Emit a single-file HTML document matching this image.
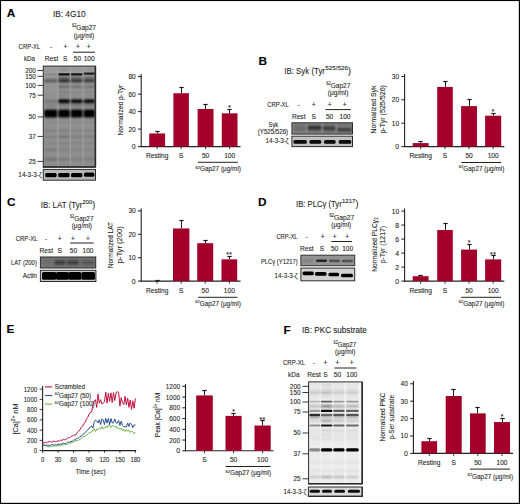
<!DOCTYPE html>
<html><head><meta charset="utf-8"><style>
html,body{margin:0;padding:0;background:#fff;width:520px;height:504px;overflow:hidden}
svg{display:block}
text{font-family:"Liberation Sans",sans-serif;stroke:#2a2a2a;stroke-width:0.1px;paint-order:stroke}
</style></head><body>
<svg width="520" height="504" viewBox="0 0 520 504" font-family="Liberation Sans" fill="#1e1e1e">
<defs><filter id="f0" x="-50%" y="-200%" width="200%" height="500%"><feGaussianBlur stdDeviation="0.0"/></filter><filter id="f1" x="-50%" y="-200%" width="200%" height="500%"><feGaussianBlur stdDeviation="0.1"/></filter><filter id="f2" x="-50%" y="-200%" width="200%" height="500%"><feGaussianBlur stdDeviation="0.2"/></filter><filter id="f3" x="-50%" y="-200%" width="200%" height="500%"><feGaussianBlur stdDeviation="0.3"/></filter><filter id="f4" x="-50%" y="-200%" width="200%" height="500%"><feGaussianBlur stdDeviation="0.4"/></filter><filter id="f5" x="-50%" y="-200%" width="200%" height="500%"><feGaussianBlur stdDeviation="0.5"/></filter><filter id="f6" x="-50%" y="-200%" width="200%" height="500%"><feGaussianBlur stdDeviation="0.6"/></filter><filter id="f7" x="-50%" y="-200%" width="200%" height="500%"><feGaussianBlur stdDeviation="0.7"/></filter><filter id="f8" x="-50%" y="-200%" width="200%" height="500%"><feGaussianBlur stdDeviation="0.8"/></filter><filter id="f9" x="-50%" y="-200%" width="200%" height="500%"><feGaussianBlur stdDeviation="0.9"/></filter><filter id="f10" x="-50%" y="-200%" width="200%" height="500%"><feGaussianBlur stdDeviation="1.0"/></filter><filter id="f11" x="-50%" y="-200%" width="200%" height="500%"><feGaussianBlur stdDeviation="1.1"/></filter><filter id="f12" x="-50%" y="-200%" width="200%" height="500%"><feGaussianBlur stdDeviation="1.2"/></filter><filter id="f13" x="-50%" y="-200%" width="200%" height="500%"><feGaussianBlur stdDeviation="1.3"/></filter><filter id="f14" x="-50%" y="-200%" width="200%" height="500%"><feGaussianBlur stdDeviation="1.4"/></filter><filter id="f15" x="-50%" y="-200%" width="200%" height="500%"><feGaussianBlur stdDeviation="1.5"/></filter><filter id="f16" x="-50%" y="-200%" width="200%" height="500%"><feGaussianBlur stdDeviation="1.6"/></filter><filter id="f17" x="-50%" y="-200%" width="200%" height="500%"><feGaussianBlur stdDeviation="1.7"/></filter><filter id="f18" x="-50%" y="-200%" width="200%" height="500%"><feGaussianBlur stdDeviation="1.8"/></filter><filter id="f19" x="-50%" y="-200%" width="200%" height="500%"><feGaussianBlur stdDeviation="1.9"/></filter><linearGradient id="gA" x1="0" y1="0" x2="0" y2="1"><stop offset="0" stop-color="#a0a0a0"/><stop offset="0.3" stop-color="#959595"/><stop offset="1" stop-color="#8c8c8c"/></linearGradient></defs>
<rect x="0" y="0" width="520" height="504" fill="#fff"/>
<text x="6.80" y="16.70" font-size="11.8" font-weight="bold" fill="#000" >A</text><text x="52.90" y="16.50" font-size="8.8" textLength="32.80" lengthAdjust="spacingAndGlyphs" >IB: 4G10</text><text x="72.00" y="30.20" font-size="7.7" textLength="24.00" lengthAdjust="spacingAndGlyphs" ><tspan font-size="4.6" dy="-3.2">62</tspan><tspan dy="3.2">Gap27</tspan></text><text x="73.80" y="37.50" font-size="7.3" textLength="20.40" lengthAdjust="spacingAndGlyphs" >(&#956;g/ml)</text><text x="18.60" y="48.60" font-size="6.6" textLength="21.80" lengthAdjust="spacingAndGlyphs" >CRP-XL</text><text x="51.00" y="48.60" font-size="6.6" text-anchor="middle" >-</text><text x="65.40" y="48.60" font-size="6.6" text-anchor="middle" >+</text><text x="78.00" y="48.60" font-size="6.6" text-anchor="middle" >+</text><text x="88.70" y="48.60" font-size="6.6" text-anchor="middle" >+</text><line x1="73.00" y1="52.20" x2="95.00" y2="52.20" stroke="#222" stroke-width="1"/><text x="24.00" y="60.50" font-size="6.6" textLength="11.00" lengthAdjust="spacingAndGlyphs" >kDa</text><text x="51.60" y="60.50" font-size="6.6" text-anchor="middle" >Rest</text><text x="65.20" y="60.50" font-size="6.6" text-anchor="middle" >S</text><text x="77.50" y="60.50" font-size="6.6" text-anchor="middle" >50</text><text x="89.20" y="60.50" font-size="6.6" text-anchor="middle" >100</text><line x1="37.50" y1="70.50" x2="43.00" y2="70.50" stroke="#222" stroke-width="0.9"/><text x="35.80" y="72.80" font-size="6.4" text-anchor="end" >200</text><line x1="37.50" y1="76.30" x2="43.00" y2="76.30" stroke="#222" stroke-width="0.9"/><text x="35.80" y="78.60" font-size="6.4" text-anchor="end" >150</text><line x1="37.50" y1="85.40" x2="43.00" y2="85.40" stroke="#222" stroke-width="0.9"/><text x="35.80" y="87.70" font-size="6.4" text-anchor="end" >100</text><line x1="37.50" y1="95.20" x2="43.00" y2="95.20" stroke="#222" stroke-width="0.9"/><text x="35.80" y="97.50" font-size="6.4" text-anchor="end" >75</text><line x1="37.50" y1="116.90" x2="43.00" y2="116.90" stroke="#222" stroke-width="0.9"/><text x="35.80" y="119.20" font-size="6.4" text-anchor="end" >50</text><line x1="37.50" y1="136.40" x2="43.00" y2="136.40" stroke="#222" stroke-width="0.9"/><text x="35.80" y="138.70" font-size="6.4" text-anchor="end" >37</text><line x1="37.50" y1="161.40" x2="43.00" y2="161.40" stroke="#222" stroke-width="0.9"/><text x="35.80" y="163.70" font-size="6.4" text-anchor="end" >25</text><clipPath id="c29"><rect x="43.30" y="66.10" width="52.10" height="100.90"/></clipPath><g clip-path="url(#c29)"><rect x="43.30" y="66.10" width="52.10" height="100.90" fill="#a3a3a3" /><rect x="44.20" y="66.10" width="13.00" height="100.90" fill="url(#gA)" filter="url(#f6)"/><rect x="58.30" y="66.10" width="11.60" height="100.90" fill="url(#gA)" filter="url(#f6)"/><rect x="70.90" y="66.10" width="11.70" height="100.90" fill="url(#gA)" filter="url(#f6)"/><rect x="83.60" y="66.10" width="11.40" height="100.90" fill="url(#gA)" filter="url(#f6)"/><rect x="44.20" y="68.25" width="13.00" height="2.50" rx="1.25" fill="rgba(0,0,0,0.06)" filter="url(#f10)"/><rect x="44.20" y="73.35" width="13.00" height="2.10" rx="1.05" fill="rgba(0,0,0,0.12)" filter="url(#f6)"/><rect x="44.20" y="76.30" width="13.00" height="2.60" rx="1.30" fill="rgba(0,0,0,0.05)" filter="url(#f10)"/><rect x="44.20" y="79.10" width="13.00" height="3.40" rx="1.50" fill="rgba(0,0,0,0.40)" filter="url(#f9)"/><rect x="44.20" y="85.30" width="13.00" height="3.00" rx="1.50" fill="rgba(0,0,0,0.06)" filter="url(#f10)"/><rect x="44.20" y="90.50" width="13.00" height="3.00" rx="1.50" fill="rgba(0,0,0,0.04)" filter="url(#f10)"/><rect x="44.20" y="95.00" width="13.00" height="2.00" rx="1.00" fill="rgba(0,0,0,0.04)" filter="url(#f10)"/><rect x="44.20" y="99.30" width="13.00" height="4.00" rx="1.50" fill="rgba(0,0,0,0.18)" filter="url(#f8)"/><rect x="44.20" y="104.40" width="13.00" height="2.40" rx="1.20" fill="rgba(0,0,0,0.15)" filter="url(#f9)"/><rect x="44.20" y="109.50" width="13.00" height="8.00" rx="1.50" fill="rgba(0,0,0,1.00)" filter="url(#f8)"/><rect x="44.20" y="121.50" width="13.00" height="2.00" rx="1.00" fill="rgba(0,0,0,0.08)" filter="url(#f10)"/><rect x="44.20" y="129.60" width="13.00" height="2.20" rx="1.10" fill="rgba(0,0,0,0.14)" filter="url(#f10)"/><rect x="44.20" y="135.70" width="13.00" height="2.20" rx="1.10" fill="rgba(0,0,0,0.14)" filter="url(#f10)"/><rect x="44.20" y="142.20" width="13.00" height="2.00" rx="1.00" fill="rgba(0,0,0,0.09)" filter="url(#f10)"/><rect x="44.20" y="148.50" width="13.00" height="2.40" rx="1.20" fill="rgba(0,0,0,0.14)" filter="url(#f11)"/><rect x="44.20" y="158.10" width="13.00" height="2.40" rx="1.20" fill="rgba(0,0,0,0.22)" filter="url(#f10)"/><rect x="58.30" y="68.25" width="11.60" height="2.50" rx="1.25" fill="rgba(0,0,0,0.12)" filter="url(#f10)"/><rect x="58.30" y="73.35" width="11.60" height="2.10" rx="1.05" fill="rgba(0,0,0,0.90)" filter="url(#f6)"/><rect x="58.30" y="76.30" width="11.60" height="2.60" rx="1.30" fill="rgba(0,0,0,0.35)" filter="url(#f10)"/><rect x="58.30" y="79.10" width="11.60" height="3.40" rx="1.50" fill="rgba(0,0,0,0.72)" filter="url(#f9)"/><rect x="58.30" y="85.30" width="11.60" height="3.00" rx="1.50" fill="rgba(0,0,0,0.30)" filter="url(#f10)"/><rect x="58.30" y="90.50" width="11.60" height="3.00" rx="1.50" fill="rgba(0,0,0,0.16)" filter="url(#f10)"/><rect x="58.30" y="95.00" width="11.60" height="2.00" rx="1.00" fill="rgba(0,0,0,0.12)" filter="url(#f10)"/><rect x="58.30" y="99.30" width="11.60" height="4.00" rx="1.50" fill="rgba(0,0,0,1.00)" filter="url(#f8)"/><rect x="58.30" y="104.40" width="11.60" height="2.40" rx="1.20" fill="rgba(0,0,0,0.22)" filter="url(#f9)"/><rect x="58.30" y="109.50" width="11.60" height="8.00" rx="1.50" fill="rgba(0,0,0,1.00)" filter="url(#f8)"/><rect x="58.30" y="121.50" width="11.60" height="2.00" rx="1.00" fill="rgba(0,0,0,0.08)" filter="url(#f10)"/><rect x="58.30" y="129.60" width="11.60" height="2.20" rx="1.10" fill="rgba(0,0,0,0.14)" filter="url(#f10)"/><rect x="58.30" y="135.70" width="11.60" height="2.20" rx="1.10" fill="rgba(0,0,0,0.24)" filter="url(#f10)"/><rect x="58.30" y="142.20" width="11.60" height="2.00" rx="1.00" fill="rgba(0,0,0,0.11)" filter="url(#f10)"/><rect x="58.30" y="148.50" width="11.60" height="2.40" rx="1.20" fill="rgba(0,0,0,0.09)" filter="url(#f11)"/><rect x="58.30" y="158.10" width="11.60" height="2.40" rx="1.20" fill="rgba(0,0,0,0.15)" filter="url(#f10)"/><rect x="70.90" y="68.25" width="11.70" height="2.50" rx="1.25" fill="rgba(0,0,0,0.08)" filter="url(#f10)"/><rect x="70.90" y="73.35" width="11.70" height="2.10" rx="1.05" fill="rgba(0,0,0,0.85)" filter="url(#f6)"/><rect x="70.90" y="76.30" width="11.70" height="2.60" rx="1.30" fill="rgba(0,0,0,0.30)" filter="url(#f10)"/><rect x="70.90" y="79.10" width="11.70" height="3.40" rx="1.50" fill="rgba(0,0,0,0.68)" filter="url(#f9)"/><rect x="70.90" y="85.30" width="11.70" height="3.00" rx="1.50" fill="rgba(0,0,0,0.25)" filter="url(#f10)"/><rect x="70.90" y="90.50" width="11.70" height="3.00" rx="1.50" fill="rgba(0,0,0,0.12)" filter="url(#f10)"/><rect x="70.90" y="95.00" width="11.70" height="2.00" rx="1.00" fill="rgba(0,0,0,0.08)" filter="url(#f10)"/><rect x="70.90" y="99.30" width="11.70" height="4.00" rx="1.50" fill="rgba(0,0,0,0.95)" filter="url(#f8)"/><rect x="70.90" y="104.40" width="11.70" height="2.40" rx="1.20" fill="rgba(0,0,0,0.22)" filter="url(#f9)"/><rect x="70.90" y="109.50" width="11.70" height="8.00" rx="1.50" fill="rgba(0,0,0,1.00)" filter="url(#f8)"/><rect x="70.90" y="121.50" width="11.70" height="2.00" rx="1.00" fill="rgba(0,0,0,0.08)" filter="url(#f10)"/><rect x="70.90" y="129.60" width="11.70" height="2.20" rx="1.10" fill="rgba(0,0,0,0.11)" filter="url(#f10)"/><rect x="70.90" y="135.70" width="11.70" height="2.20" rx="1.10" fill="rgba(0,0,0,0.15)" filter="url(#f10)"/><rect x="70.90" y="142.20" width="11.70" height="2.00" rx="1.00" fill="rgba(0,0,0,0.11)" filter="url(#f10)"/><rect x="70.90" y="148.50" width="11.70" height="2.40" rx="1.20" fill="rgba(0,0,0,0.08)" filter="url(#f11)"/><rect x="70.90" y="158.10" width="11.70" height="2.40" rx="1.20" fill="rgba(0,0,0,0.12)" filter="url(#f10)"/><rect x="83.60" y="68.25" width="11.40" height="2.50" rx="1.25" fill="rgba(0,0,0,0.08)" filter="url(#f10)"/><rect x="83.60" y="72.55" width="11.40" height="2.10" rx="1.05" fill="rgba(0,0,0,0.80)" filter="url(#f6)"/><rect x="83.60" y="76.30" width="11.40" height="2.60" rx="1.30" fill="rgba(0,0,0,0.30)" filter="url(#f10)"/><rect x="83.60" y="79.10" width="11.40" height="3.40" rx="1.50" fill="rgba(0,0,0,0.62)" filter="url(#f9)"/><rect x="83.60" y="85.30" width="11.40" height="3.00" rx="1.50" fill="rgba(0,0,0,0.25)" filter="url(#f10)"/><rect x="83.60" y="90.50" width="11.40" height="3.00" rx="1.50" fill="rgba(0,0,0,0.12)" filter="url(#f10)"/><rect x="83.60" y="95.00" width="11.40" height="2.00" rx="1.00" fill="rgba(0,0,0,0.08)" filter="url(#f10)"/><rect x="83.60" y="99.30" width="11.40" height="4.00" rx="1.50" fill="rgba(0,0,0,0.95)" filter="url(#f8)"/><rect x="83.60" y="104.40" width="11.40" height="2.40" rx="1.20" fill="rgba(0,0,0,0.22)" filter="url(#f9)"/><rect x="83.60" y="109.50" width="11.40" height="8.00" rx="1.50" fill="rgba(0,0,0,1.00)" filter="url(#f8)"/><rect x="83.60" y="121.50" width="11.40" height="2.00" rx="1.00" fill="rgba(0,0,0,0.08)" filter="url(#f10)"/><rect x="83.60" y="129.60" width="11.40" height="2.20" rx="1.10" fill="rgba(0,0,0,0.11)" filter="url(#f10)"/><rect x="83.60" y="135.70" width="11.40" height="2.20" rx="1.10" fill="rgba(0,0,0,0.15)" filter="url(#f10)"/><rect x="83.60" y="142.20" width="11.40" height="2.00" rx="1.00" fill="rgba(0,0,0,0.09)" filter="url(#f10)"/><rect x="83.60" y="148.50" width="11.40" height="2.40" rx="1.20" fill="rgba(0,0,0,0.08)" filter="url(#f11)"/><rect x="83.60" y="158.10" width="11.40" height="2.40" rx="1.20" fill="rgba(0,0,0,0.12)" filter="url(#f10)"/></g><rect x="43.30" y="66.10" width="52.10" height="100.90" fill="none" stroke="#2a2a2a" stroke-width="1.0"/><line x1="42.80" y1="167.00" x2="95.90" y2="167.00" stroke="#2a2a2a" stroke-width="1.6"/><line x1="95.40" y1="66.10" x2="95.40" y2="167.00" stroke="#2a2a2a" stroke-width="1.6"/><text x="18.30" y="177.40" font-size="6.5" textLength="23.60" lengthAdjust="spacingAndGlyphs" >14-3-3-&#950;</text><clipPath id="c105"><rect x="43.30" y="169.40" width="52.20" height="10.80"/></clipPath><g clip-path="url(#c105)"><rect x="43.30" y="169.40" width="52.20" height="10.80" fill="#b8b8b8" /><rect x="45.20" y="173.10" width="11.40" height="4.20" rx="1.50" fill="#000" filter="url(#f6)"/><rect x="58.20" y="173.10" width="11.40" height="4.20" rx="1.50" fill="#000" filter="url(#f6)"/><rect x="71.00" y="173.10" width="11.40" height="4.20" rx="1.50" fill="#000" filter="url(#f6)"/><rect x="84.00" y="172.50" width="10.40" height="4.20" rx="1.50" fill="#000" filter="url(#f6)"/></g><rect x="43.30" y="169.40" width="52.20" height="10.80" fill="none" stroke="#2a2a2a" stroke-width="1.0"/><line x1="141.20" y1="74.00" x2="141.20" y2="147.10" stroke="#222" stroke-width="1.1"/><line x1="140.70" y1="146.60" x2="240.50" y2="146.60" stroke="#222" stroke-width="1.1"/><line x1="138.00" y1="146.60" x2="141.20" y2="146.60" stroke="#1a1a1a" stroke-width="1.0"/><text x="135.70" y="149.05" font-size="7.0" text-anchor="end" textLength="3.85" lengthAdjust="spacingAndGlyphs" >0</text><line x1="138.00" y1="129.10" x2="141.20" y2="129.10" stroke="#1a1a1a" stroke-width="1.0"/><text x="135.70" y="131.55" font-size="7.0" text-anchor="end" textLength="7.30" lengthAdjust="spacingAndGlyphs" >20</text><line x1="138.00" y1="111.60" x2="141.20" y2="111.60" stroke="#1a1a1a" stroke-width="1.0"/><text x="135.70" y="114.05" font-size="7.0" text-anchor="end" textLength="7.30" lengthAdjust="spacingAndGlyphs" >40</text><line x1="138.00" y1="94.10" x2="141.20" y2="94.10" stroke="#1a1a1a" stroke-width="1.0"/><text x="135.70" y="96.55" font-size="7.0" text-anchor="end" textLength="7.30" lengthAdjust="spacingAndGlyphs" >60</text><line x1="138.00" y1="76.60" x2="141.20" y2="76.60" stroke="#1a1a1a" stroke-width="1.0"/><text x="135.70" y="79.05" font-size="7.0" text-anchor="end" textLength="7.30" lengthAdjust="spacingAndGlyphs" >80</text><line x1="157.15" y1="146.60" x2="157.15" y2="149.20" stroke="#222" stroke-width="0.9"/><rect x="149.20" y="133.47" width="15.90" height="13.12" fill="#a2002b" /><line x1="157.50" y1="133.47" x2="157.50" y2="131.50" stroke="#1a1a1a" stroke-width="1.0"/><line x1="155.30" y1="131.50" x2="159.70" y2="131.50" stroke="#1a1a1a" stroke-width="1.2"/><text x="157.15" y="158.20" font-size="6.6" text-anchor="middle" >Resting</text><line x1="181.15" y1="146.60" x2="181.15" y2="149.20" stroke="#222" stroke-width="0.9"/><rect x="173.40" y="93.22" width="15.50" height="53.38" fill="#a2002b" /><line x1="181.50" y1="93.22" x2="181.50" y2="87.50" stroke="#1a1a1a" stroke-width="1.0"/><line x1="179.30" y1="87.50" x2="183.70" y2="87.50" stroke="#1a1a1a" stroke-width="1.2"/><text x="181.15" y="158.20" font-size="6.6" text-anchor="middle" >S</text><line x1="205.55" y1="146.60" x2="205.55" y2="149.20" stroke="#222" stroke-width="0.9"/><rect x="197.60" y="108.97" width="15.90" height="37.62" fill="#a2002b" /><line x1="205.50" y1="108.97" x2="205.50" y2="104.50" stroke="#1a1a1a" stroke-width="1.0"/><line x1="203.30" y1="104.50" x2="207.70" y2="104.50" stroke="#1a1a1a" stroke-width="1.2"/><text x="205.55" y="158.20" font-size="6.6" text-anchor="middle" >50</text><line x1="229.65" y1="146.60" x2="229.65" y2="149.20" stroke="#222" stroke-width="0.9"/><rect x="221.80" y="113.35" width="15.70" height="33.25" fill="#a2002b" /><line x1="229.50" y1="113.35" x2="229.50" y2="109.50" stroke="#1a1a1a" stroke-width="1.0"/><line x1="227.30" y1="109.50" x2="231.70" y2="109.50" stroke="#1a1a1a" stroke-width="1.2"/><text x="229.65" y="110.31" font-size="6.6" text-anchor="middle" >*</text><text x="229.65" y="158.20" font-size="6.6" text-anchor="middle" >100</text><line x1="198.00" y1="162.30" x2="237.80" y2="162.30" stroke="#222" stroke-width="1.0"/><text x="218.20" y="171.20" font-size="6.9" text-anchor="middle" textLength="45.50" lengthAdjust="spacingAndGlyphs" ><tspan font-size="4.4" dy="-2.7">62</tspan><tspan dy="2.7">Gap27 (&#956;g/ml)</tspan></text><text x="122.70" y="110.10" font-size="7.9" text-anchor="middle" textLength="50.80" lengthAdjust="spacingAndGlyphs" transform="rotate(-90 122.70 110.10)" >Normalized p-Tyr</text><text x="258.40" y="65.30" font-size="11.8" font-weight="bold" fill="#000" >B</text><text x="284.20" y="74.00" font-size="8.8" textLength="40.80" lengthAdjust="spacingAndGlyphs" >IB: Syk (Tyr</text><text x="325.30" y="70.10" font-size="5.8" textLength="22.60" lengthAdjust="spacingAndGlyphs" >525/526</text><text x="348.00" y="74.00" font-size="8.8" >)</text><text x="326.30" y="87.90" font-size="7.7" textLength="24.00" lengthAdjust="spacingAndGlyphs" ><tspan font-size="4.6" dy="-3.2">62</tspan><tspan dy="3.2">Gap27</tspan></text><text x="327.70" y="95.40" font-size="7.3" textLength="20.80" lengthAdjust="spacingAndGlyphs" >(&#956;g/ml)</text><text x="267.30" y="106.90" font-size="6.6" textLength="21.50" lengthAdjust="spacingAndGlyphs" >CRP-XL</text><text x="298.50" y="106.90" font-size="6.6" text-anchor="middle" >-</text><text x="313.80" y="106.90" font-size="6.6" text-anchor="middle" >+</text><text x="329.60" y="106.90" font-size="6.6" text-anchor="middle" >+</text><text x="344.60" y="106.90" font-size="6.6" text-anchor="middle" >+</text><line x1="325.40" y1="109.60" x2="350.80" y2="109.60" stroke="#222" stroke-width="1"/><text x="298.70" y="118.50" font-size="6.6" text-anchor="middle" >Rest</text><text x="313.80" y="118.50" font-size="6.6" text-anchor="middle" >S</text><text x="329.60" y="118.50" font-size="6.6" text-anchor="middle" >50</text><text x="345.00" y="118.50" font-size="6.6" text-anchor="middle" >100</text><text x="268.60" y="126.70" font-size="6.8" textLength="9.60" lengthAdjust="spacingAndGlyphs" >Syk</text><text x="257.80" y="134.00" font-size="6.8" textLength="30.30" lengthAdjust="spacingAndGlyphs" >(Y525/526)</text><text x="265.60" y="142.70" font-size="6.6" textLength="23.00" lengthAdjust="spacingAndGlyphs" >14-3-3-&#950;</text><clipPath id="c169"><rect x="291.90" y="122.80" width="60.60" height="11.30"/></clipPath><g clip-path="url(#c169)"><rect x="291.90" y="122.80" width="60.60" height="11.30" fill="#8e8e8e" /><rect x="293.50" y="122.80" width="12.50" height="11.30" fill="#808080" filter="url(#f6)"/><rect x="307.50" y="122.80" width="14.00" height="11.30" fill="#808080" filter="url(#f6)"/><rect x="323.00" y="122.80" width="12.60" height="11.30" fill="#808080" filter="url(#f6)"/><rect x="337.00" y="122.80" width="15.00" height="11.30" fill="#808080" filter="url(#f6)"/><rect x="293.50" y="127.00" width="12.50" height="3.40" rx="1.50" fill="rgba(0,0,0,0.20)" filter="url(#f10)"/><rect x="307.50" y="125.90" width="14.00" height="3.00" rx="1.50" fill="rgba(0,0,0,0.70)" filter="url(#f8)"/><rect x="307.50" y="128.90" width="14.00" height="2.20" rx="1.10" fill="rgba(0,0,0,0.40)" filter="url(#f9)"/><rect x="323.00" y="126.60" width="12.60" height="2.80" rx="1.40" fill="rgba(0,0,0,0.60)" filter="url(#f8)"/><rect x="323.00" y="129.20" width="12.60" height="2.20" rx="1.10" fill="rgba(0,0,0,0.30)" filter="url(#f9)"/><rect x="337.00" y="128.00" width="15.00" height="3.60" rx="1.50" fill="rgba(0,0,0,0.55)" filter="url(#f9)"/><rect x="293.50" y="123.50" width="12.50" height="3.00" rx="1.50" fill="rgba(0,0,0,0.10)" filter="url(#f10)"/><rect x="307.50" y="124.00" width="14.00" height="2.00" rx="1.00" fill="rgba(0,0,0,0.10)" filter="url(#f10)"/><rect x="323.00" y="124.00" width="12.60" height="2.00" rx="1.00" fill="rgba(0,0,0,0.10)" filter="url(#f10)"/><rect x="337.00" y="123.50" width="15.00" height="3.00" rx="1.50" fill="rgba(0,0,0,0.10)" filter="url(#f10)"/></g><rect x="291.90" y="122.80" width="60.60" height="11.30" fill="none" stroke="#2a2a2a" stroke-width="1.0"/><clipPath id="c188"><rect x="291.90" y="136.20" width="60.60" height="10.40"/></clipPath><g clip-path="url(#c188)"><rect x="291.90" y="136.20" width="60.60" height="10.40" fill="#c2c2c2" /><rect x="293.50" y="140.00" width="13.40" height="3.80" rx="1.50" fill="#080808" filter="url(#f6)"/><rect x="309.40" y="140.00" width="11.90" height="3.80" rx="1.50" fill="#080808" filter="url(#f6)"/><rect x="324.00" y="140.00" width="11.60" height="3.80" rx="1.50" fill="#080808" filter="url(#f6)"/><rect x="338.70" y="140.00" width="12.60" height="3.80" rx="1.50" fill="#080808" filter="url(#f6)"/></g><rect x="291.90" y="136.20" width="60.60" height="10.40" fill="none" stroke="#2a2a2a" stroke-width="1.0"/><line x1="404.60" y1="74.00" x2="404.60" y2="147.10" stroke="#222" stroke-width="1.1"/><line x1="404.10" y1="146.60" x2="504.30" y2="146.60" stroke="#222" stroke-width="1.1"/><line x1="401.40" y1="146.60" x2="404.60" y2="146.60" stroke="#1a1a1a" stroke-width="1.0"/><text x="399.10" y="149.05" font-size="7.0" text-anchor="end" textLength="3.85" lengthAdjust="spacingAndGlyphs" >0</text><line x1="401.40" y1="123.20" x2="404.60" y2="123.20" stroke="#1a1a1a" stroke-width="1.0"/><text x="399.10" y="125.65" font-size="7.0" text-anchor="end" textLength="7.30" lengthAdjust="spacingAndGlyphs" >10</text><line x1="401.40" y1="99.80" x2="404.60" y2="99.80" stroke="#1a1a1a" stroke-width="1.0"/><text x="399.10" y="102.25" font-size="7.0" text-anchor="end" textLength="7.30" lengthAdjust="spacingAndGlyphs" >20</text><line x1="401.40" y1="76.40" x2="404.60" y2="76.40" stroke="#1a1a1a" stroke-width="1.0"/><text x="399.10" y="78.85" font-size="7.0" text-anchor="end" textLength="7.30" lengthAdjust="spacingAndGlyphs" >30</text><line x1="420.65" y1="146.60" x2="420.65" y2="149.20" stroke="#222" stroke-width="0.9"/><rect x="412.70" y="143.09" width="15.90" height="3.51" fill="#a2002b" /><line x1="420.50" y1="143.09" x2="420.50" y2="141.50" stroke="#1a1a1a" stroke-width="1.0"/><line x1="418.30" y1="141.50" x2="422.70" y2="141.50" stroke="#1a1a1a" stroke-width="1.2"/><text x="420.65" y="158.30" font-size="6.6" text-anchor="middle" >Resting</text><line x1="445.00" y1="146.60" x2="445.00" y2="149.20" stroke="#222" stroke-width="0.9"/><rect x="437.20" y="86.93" width="15.60" height="59.67" fill="#a2002b" /><line x1="445.50" y1="86.93" x2="445.50" y2="81.50" stroke="#1a1a1a" stroke-width="1.0"/><line x1="443.30" y1="81.50" x2="447.70" y2="81.50" stroke="#1a1a1a" stroke-width="1.2"/><text x="445.00" y="158.30" font-size="6.6" text-anchor="middle" >S</text><line x1="469.05" y1="146.60" x2="469.05" y2="149.20" stroke="#222" stroke-width="0.9"/><rect x="461.10" y="106.12" width="15.90" height="40.48" fill="#a2002b" /><line x1="469.50" y1="106.12" x2="469.50" y2="99.50" stroke="#1a1a1a" stroke-width="1.0"/><line x1="467.30" y1="99.50" x2="471.70" y2="99.50" stroke="#1a1a1a" stroke-width="1.2"/><text x="469.05" y="158.30" font-size="6.6" text-anchor="middle" >50</text><line x1="493.15" y1="146.60" x2="493.15" y2="149.20" stroke="#222" stroke-width="0.9"/><rect x="485.10" y="115.71" width="16.10" height="30.89" fill="#a2002b" /><line x1="493.50" y1="115.71" x2="493.50" y2="113.50" stroke="#1a1a1a" stroke-width="1.0"/><line x1="491.30" y1="113.50" x2="495.70" y2="113.50" stroke="#1a1a1a" stroke-width="1.2"/><text x="493.15" y="114.04" font-size="6.6" text-anchor="middle" >*</text><text x="493.15" y="158.30" font-size="6.6" text-anchor="middle" >100</text><line x1="461.30" y1="162.50" x2="501.20" y2="162.50" stroke="#222" stroke-width="1.0"/><text x="481.55" y="171.00" font-size="6.9" text-anchor="middle" textLength="45.50" lengthAdjust="spacingAndGlyphs" ><tspan font-size="4.4" dy="-2.7">62</tspan><tspan dy="2.7">Gap27 (&#956;g/ml)</tspan></text><text x="376.40" y="109.60" font-size="7.9" text-anchor="middle" textLength="47.80" lengthAdjust="spacingAndGlyphs" transform="rotate(-90 376.40 109.60)" >Normalized Syk</text><text x="385.30" y="109.30" font-size="7.9" text-anchor="middle" textLength="48.60" lengthAdjust="spacingAndGlyphs" transform="rotate(-90 385.30 109.30)" >p-Tyr (525/526)</text><text x="6.90" y="205.80" font-size="11.8" font-weight="bold" fill="#000" >C</text><text x="40.70" y="207.80" font-size="8.8" textLength="41.70" lengthAdjust="spacingAndGlyphs" >IB: LAT (Tyr</text><text x="82.40" y="203.50" font-size="5.8" textLength="9.80" lengthAdjust="spacingAndGlyphs" >200</text><text x="92.20" y="207.80" font-size="8.8" >)</text><text x="69.90" y="221.20" font-size="7.7" textLength="23.60" lengthAdjust="spacingAndGlyphs" ><tspan font-size="4.6" dy="-3.2">62</tspan><tspan dy="3.2">Gap27</tspan></text><text x="71.70" y="228.40" font-size="7.3" textLength="20.30" lengthAdjust="spacingAndGlyphs" >(&#956;g/ml)</text><text x="15.80" y="240.60" font-size="6.6" textLength="21.70" lengthAdjust="spacingAndGlyphs" >CRP-XL</text><text x="46.20" y="240.60" font-size="6.6" text-anchor="middle" >-</text><text x="59.60" y="240.60" font-size="6.6" text-anchor="middle" >+</text><text x="73.00" y="240.60" font-size="6.6" text-anchor="middle" >+</text><text x="88.00" y="240.60" font-size="6.6" text-anchor="middle" >+</text><line x1="70.20" y1="243.00" x2="93.70" y2="243.00" stroke="#222" stroke-width="1"/><text x="46.40" y="252.50" font-size="6.6" text-anchor="middle" >Rest</text><text x="59.60" y="252.50" font-size="6.6" text-anchor="middle" >S</text><text x="73.50" y="252.50" font-size="6.6" text-anchor="middle" >50</text><text x="88.00" y="252.50" font-size="6.6" text-anchor="middle" >100</text><text x="11.00" y="264.50" font-size="6.8" textLength="25.90" lengthAdjust="spacingAndGlyphs" >LAT (200)</text><text x="22.70" y="277.50" font-size="6.8" textLength="14.20" lengthAdjust="spacingAndGlyphs" >Actin</text><clipPath id="c250"><rect x="40.40" y="257.00" width="55.30" height="11.00"/></clipPath><g clip-path="url(#c250)"><rect x="40.40" y="257.00" width="55.30" height="11.00" fill="#747474" /><rect x="42.00" y="260.10" width="12.50" height="5.00" rx="1.50" fill="rgba(0,0,0,0.05)" filter="url(#f10)"/><rect x="54.70" y="260.10" width="10.80" height="5.00" rx="1.50" fill="rgba(0,0,0,0.45)" filter="url(#f9)"/><rect x="66.80" y="260.10" width="12.20" height="5.00" rx="1.50" fill="rgba(0,0,0,0.42)" filter="url(#f9)"/><rect x="81.20" y="260.10" width="12.80" height="5.00" rx="1.50" fill="rgba(0,0,0,0.25)" filter="url(#f9)"/></g><rect x="40.40" y="257.00" width="55.30" height="11.00" fill="none" stroke="#2a2a2a" stroke-width="1.0"/><clipPath id="c259"><rect x="40.40" y="270.30" width="55.50" height="11.20"/></clipPath><g clip-path="url(#c259)"><rect x="40.40" y="270.30" width="55.50" height="11.20" fill="#cacaca" /><rect x="42.00" y="272.10" width="14.40" height="7.60" rx="1.50" fill="#000" filter="url(#f4)"/><rect x="56.00" y="272.10" width="12.90" height="7.60" rx="1.50" fill="#000" filter="url(#f4)"/><rect x="68.40" y="272.10" width="13.00" height="7.60" rx="1.50" fill="#000" filter="url(#f4)"/><rect x="81.40" y="272.10" width="13.60" height="7.60" rx="1.50" fill="#000" filter="url(#f4)"/></g><rect x="40.40" y="270.30" width="55.50" height="11.20" fill="none" stroke="#2a2a2a" stroke-width="1.0"/><line x1="141.20" y1="208.50" x2="141.20" y2="281.60" stroke="#222" stroke-width="1.1"/><line x1="140.70" y1="281.10" x2="240.50" y2="281.10" stroke="#222" stroke-width="1.1"/><line x1="138.00" y1="281.10" x2="141.20" y2="281.10" stroke="#1a1a1a" stroke-width="1.0"/><text x="135.70" y="283.55" font-size="7.0" text-anchor="end" textLength="3.85" lengthAdjust="spacingAndGlyphs" >0</text><line x1="138.00" y1="257.70" x2="141.20" y2="257.70" stroke="#1a1a1a" stroke-width="1.0"/><text x="135.70" y="260.15" font-size="7.0" text-anchor="end" textLength="7.30" lengthAdjust="spacingAndGlyphs" >10</text><line x1="138.00" y1="234.30" x2="141.20" y2="234.30" stroke="#1a1a1a" stroke-width="1.0"/><text x="135.70" y="236.75" font-size="7.0" text-anchor="end" textLength="7.30" lengthAdjust="spacingAndGlyphs" >20</text><line x1="138.00" y1="210.90" x2="141.20" y2="210.90" stroke="#1a1a1a" stroke-width="1.0"/><text x="135.70" y="213.35" font-size="7.0" text-anchor="end" textLength="7.30" lengthAdjust="spacingAndGlyphs" >30</text><line x1="157.15" y1="281.10" x2="157.15" y2="283.70" stroke="#222" stroke-width="0.9"/><line x1="157.50" y1="281.10" x2="157.50" y2="280.50" stroke="#1a1a1a" stroke-width="1.0"/><line x1="155.30" y1="280.50" x2="159.70" y2="280.50" stroke="#1a1a1a" stroke-width="1.2"/><text x="157.15" y="293.30" font-size="6.6" text-anchor="middle" >Resting</text><line x1="181.20" y1="281.10" x2="181.20" y2="283.70" stroke="#222" stroke-width="0.9"/><rect x="173.00" y="228.45" width="16.40" height="52.65" fill="#a2002b" /><line x1="181.50" y1="228.45" x2="181.50" y2="220.50" stroke="#1a1a1a" stroke-width="1.0"/><line x1="179.30" y1="220.50" x2="183.70" y2="220.50" stroke="#1a1a1a" stroke-width="1.2"/><text x="181.20" y="293.30" font-size="6.6" text-anchor="middle" >S</text><line x1="205.20" y1="281.10" x2="205.20" y2="283.70" stroke="#222" stroke-width="0.9"/><rect x="197.20" y="243.19" width="16.00" height="37.91" fill="#a2002b" /><line x1="205.50" y1="243.19" x2="205.50" y2="240.50" stroke="#1a1a1a" stroke-width="1.0"/><line x1="203.30" y1="240.50" x2="207.70" y2="240.50" stroke="#1a1a1a" stroke-width="1.2"/><text x="205.20" y="293.30" font-size="6.6" text-anchor="middle" >50</text><line x1="229.35" y1="281.10" x2="229.35" y2="283.70" stroke="#222" stroke-width="0.9"/><rect x="221.50" y="259.34" width="15.70" height="21.76" fill="#a2002b" /><line x1="229.50" y1="259.34" x2="229.50" y2="256.50" stroke="#1a1a1a" stroke-width="1.0"/><line x1="227.30" y1="256.50" x2="231.70" y2="256.50" stroke="#1a1a1a" stroke-width="1.2"/><text x="229.35" y="256.96" font-size="6.6" text-anchor="middle" letter-spacing="0.5">**</text><text x="229.35" y="293.30" font-size="6.6" text-anchor="middle" >100</text><line x1="198.00" y1="297.30" x2="237.50" y2="297.30" stroke="#222" stroke-width="1.0"/><text x="218.05" y="305.50" font-size="6.9" text-anchor="middle" textLength="45.50" lengthAdjust="spacingAndGlyphs" ><tspan font-size="4.4" dy="-2.7">62</tspan><tspan dy="2.7">Gap27 (&#956;g/ml)</tspan></text><text x="113.30" y="245.10" font-size="7.9" text-anchor="middle" textLength="46.40" lengthAdjust="spacingAndGlyphs" transform="rotate(-90 113.30 245.10)" >Normalized LAT</text><text x="121.60" y="244.80" font-size="7.9" text-anchor="middle" textLength="37.00" lengthAdjust="spacingAndGlyphs" transform="rotate(-90 121.60 244.80)" >p-Tyr (200)</text><text x="258.00" y="205.70" font-size="11.8" font-weight="bold" fill="#000" >D</text><text x="296.00" y="206.90" font-size="8.8" textLength="45.80" lengthAdjust="spacingAndGlyphs" >IB: PLC&#947; (Tyr</text><text x="341.90" y="202.80" font-size="5.8" textLength="13.60" lengthAdjust="spacingAndGlyphs" >1217</text><text x="355.60" y="206.90" font-size="8.8" >)</text><text x="329.40" y="220.00" font-size="7.7" textLength="24.80" lengthAdjust="spacingAndGlyphs" ><tspan font-size="4.6" dy="-3.2">62</tspan><tspan dy="3.2">Gap27</tspan></text><text x="331.30" y="226.80" font-size="7.3" textLength="19.90" lengthAdjust="spacingAndGlyphs" >(&#956;g/ml)</text><text x="276.40" y="239.20" font-size="6.6" textLength="21.20" lengthAdjust="spacingAndGlyphs" >CRP-XL</text><text x="306.70" y="239.20" font-size="6.6" text-anchor="middle" >-</text><text x="322.60" y="239.20" font-size="6.6" text-anchor="middle" >+</text><text x="334.60" y="239.20" font-size="6.6" text-anchor="middle" >+</text><text x="347.30" y="239.20" font-size="6.6" text-anchor="middle" >+</text><line x1="331.40" y1="241.50" x2="352.00" y2="241.50" stroke="#222" stroke-width="1"/><text x="306.90" y="250.60" font-size="6.6" text-anchor="middle" >Rest</text><text x="322.00" y="250.60" font-size="6.6" text-anchor="middle" >S</text><text x="334.60" y="250.60" font-size="6.6" text-anchor="middle" >50</text><text x="347.70" y="250.60" font-size="6.6" text-anchor="middle" >100</text><text x="260.90" y="263.60" font-size="6.8" textLength="36.70" lengthAdjust="spacingAndGlyphs" >PLC&#947; (Y1217)</text><text x="274.60" y="277.70" font-size="6.6" textLength="23.00" lengthAdjust="spacingAndGlyphs" >14-3-3-&#950;</text><clipPath id="c320"><rect x="300.90" y="255.20" width="53.80" height="10.50"/></clipPath><g clip-path="url(#c320)"><rect x="300.90" y="255.20" width="53.80" height="10.50" fill="#939393" /><rect x="302.50" y="259.40" width="11.50" height="2.60" rx="1.30" fill="rgba(0,0,0,0.15)" filter="url(#f8)"/><rect x="316.00" y="259.40" width="11.00" height="2.60" rx="1.30" fill="rgba(0,0,0,0.75)" filter="url(#f6)"/><rect x="329.00" y="259.60" width="11.00" height="2.60" rx="1.30" fill="rgba(0,0,0,0.45)" filter="url(#f6)"/><rect x="341.60" y="259.70" width="11.40" height="2.60" rx="1.30" fill="rgba(0,0,0,0.45)" filter="url(#f6)"/></g><rect x="300.90" y="255.20" width="53.80" height="10.50" fill="none" stroke="#2a2a2a" stroke-width="1.0"/><clipPath id="c329"><rect x="300.90" y="268.10" width="53.80" height="12.70"/></clipPath><g clip-path="url(#c329)"><rect x="300.90" y="268.10" width="53.80" height="12.70" fill="#d2d2d2" /><rect x="302.60" y="271.60" width="11.20" height="3.60" rx="1.50" fill="#000" filter="url(#f5)"/><rect x="315.00" y="272.10" width="11.50" height="3.60" rx="1.50" fill="#000" filter="url(#f5)"/><rect x="328.40" y="272.70" width="10.80" height="3.60" rx="1.50" fill="#000" filter="url(#f5)"/><rect x="341.00" y="273.70" width="12.00" height="3.60" rx="1.50" fill="#000" filter="url(#f5)"/></g><rect x="300.90" y="268.10" width="53.80" height="12.70" fill="none" stroke="#2a2a2a" stroke-width="1.0"/><line x1="404.60" y1="208.50" x2="404.60" y2="281.60" stroke="#222" stroke-width="1.1"/><line x1="404.10" y1="281.10" x2="504.30" y2="281.10" stroke="#222" stroke-width="1.1"/><line x1="401.40" y1="281.10" x2="404.60" y2="281.10" stroke="#1a1a1a" stroke-width="1.0"/><text x="399.10" y="283.55" font-size="7.0" text-anchor="end" textLength="3.85" lengthAdjust="spacingAndGlyphs" >0</text><line x1="401.40" y1="267.10" x2="404.60" y2="267.10" stroke="#1a1a1a" stroke-width="1.0"/><text x="399.10" y="269.55" font-size="7.0" text-anchor="end" textLength="3.85" lengthAdjust="spacingAndGlyphs" >2</text><line x1="401.40" y1="253.10" x2="404.60" y2="253.10" stroke="#1a1a1a" stroke-width="1.0"/><text x="399.10" y="255.55" font-size="7.0" text-anchor="end" textLength="3.85" lengthAdjust="spacingAndGlyphs" >4</text><line x1="401.40" y1="239.10" x2="404.60" y2="239.10" stroke="#1a1a1a" stroke-width="1.0"/><text x="399.10" y="241.55" font-size="7.0" text-anchor="end" textLength="3.85" lengthAdjust="spacingAndGlyphs" >6</text><line x1="401.40" y1="225.10" x2="404.60" y2="225.10" stroke="#1a1a1a" stroke-width="1.0"/><text x="399.10" y="227.55" font-size="7.0" text-anchor="end" textLength="3.85" lengthAdjust="spacingAndGlyphs" >8</text><line x1="401.40" y1="211.10" x2="404.60" y2="211.10" stroke="#1a1a1a" stroke-width="1.0"/><text x="399.10" y="213.55" font-size="7.0" text-anchor="end" textLength="7.30" lengthAdjust="spacingAndGlyphs" >10</text><line x1="420.65" y1="281.10" x2="420.65" y2="283.70" stroke="#222" stroke-width="0.9"/><rect x="412.70" y="276.20" width="15.90" height="4.90" fill="#a2002b" /><line x1="420.50" y1="276.20" x2="420.50" y2="275.50" stroke="#1a1a1a" stroke-width="1.0"/><line x1="418.30" y1="275.50" x2="422.70" y2="275.50" stroke="#1a1a1a" stroke-width="1.2"/><text x="420.65" y="293.30" font-size="6.6" text-anchor="middle" >Resting</text><line x1="445.00" y1="281.10" x2="445.00" y2="283.70" stroke="#222" stroke-width="0.9"/><rect x="437.20" y="230.00" width="15.60" height="51.10" fill="#a2002b" /><line x1="445.50" y1="230.00" x2="445.50" y2="223.50" stroke="#1a1a1a" stroke-width="1.0"/><line x1="443.30" y1="223.50" x2="447.70" y2="223.50" stroke="#1a1a1a" stroke-width="1.2"/><text x="445.00" y="293.30" font-size="6.6" text-anchor="middle" >S</text><line x1="469.05" y1="281.10" x2="469.05" y2="283.70" stroke="#222" stroke-width="0.9"/><rect x="461.10" y="249.60" width="15.90" height="31.50" fill="#a2002b" /><line x1="469.50" y1="249.60" x2="469.50" y2="244.50" stroke="#1a1a1a" stroke-width="1.0"/><line x1="467.30" y1="244.50" x2="471.70" y2="244.50" stroke="#1a1a1a" stroke-width="1.2"/><text x="469.05" y="244.90" font-size="6.6" text-anchor="middle" >*</text><text x="469.05" y="293.30" font-size="6.6" text-anchor="middle" >50</text><line x1="493.15" y1="281.10" x2="493.15" y2="283.70" stroke="#222" stroke-width="0.9"/><rect x="485.10" y="259.40" width="16.10" height="21.70" fill="#a2002b" /><line x1="493.50" y1="259.40" x2="493.50" y2="255.50" stroke="#1a1a1a" stroke-width="1.0"/><line x1="491.30" y1="255.50" x2="495.70" y2="255.50" stroke="#1a1a1a" stroke-width="1.2"/><text x="493.15" y="256.80" font-size="6.6" text-anchor="middle" letter-spacing="0.5">**</text><text x="493.15" y="293.30" font-size="6.6" text-anchor="middle" >100</text><line x1="461.30" y1="297.30" x2="501.20" y2="297.30" stroke="#222" stroke-width="1.0"/><text x="481.55" y="305.50" font-size="6.9" text-anchor="middle" textLength="45.50" lengthAdjust="spacingAndGlyphs" ><tspan font-size="4.4" dy="-2.7">62</tspan><tspan dy="2.7">Gap27 (&#956;g/ml)</tspan></text><text x="376.60" y="244.60" font-size="7.9" text-anchor="middle" textLength="54.20" lengthAdjust="spacingAndGlyphs" transform="rotate(-90 376.60 244.60)" >Normalized PLC&#947;<tspan font-size="5.0" dy="1.5">2</tspan></text><text x="385.20" y="244.60" font-size="7.9" text-anchor="middle" textLength="37.40" lengthAdjust="spacingAndGlyphs" transform="rotate(-90 385.20 244.60)" >p-Tyr (1217)</text><text x="6.60" y="332.90" font-size="11.8" font-weight="bold" fill="#000" >E</text><line x1="42.60" y1="386.00" x2="42.60" y2="451.10" stroke="#222" stroke-width="1.1"/><line x1="42.10" y1="450.60" x2="136.20" y2="450.60" stroke="#222" stroke-width="1.1"/><line x1="39.60" y1="450.60" x2="42.60" y2="450.60" stroke="#222" stroke-width="0.9"/><text x="37.00" y="453.05" font-size="7.0" text-anchor="end" textLength="3.30" lengthAdjust="spacingAndGlyphs" >0</text><line x1="39.60" y1="440.35" x2="42.60" y2="440.35" stroke="#222" stroke-width="0.9"/><text x="37.00" y="442.80" font-size="7.0" text-anchor="end" textLength="9.90" lengthAdjust="spacingAndGlyphs" >200</text><line x1="39.60" y1="430.10" x2="42.60" y2="430.10" stroke="#222" stroke-width="0.9"/><text x="37.00" y="432.55" font-size="7.0" text-anchor="end" textLength="9.90" lengthAdjust="spacingAndGlyphs" >400</text><line x1="39.60" y1="419.85" x2="42.60" y2="419.85" stroke="#222" stroke-width="0.9"/><text x="37.00" y="422.30" font-size="7.0" text-anchor="end" textLength="9.90" lengthAdjust="spacingAndGlyphs" >600</text><line x1="39.60" y1="409.60" x2="42.60" y2="409.60" stroke="#222" stroke-width="0.9"/><text x="37.00" y="412.05" font-size="7.0" text-anchor="end" textLength="9.90" lengthAdjust="spacingAndGlyphs" >800</text><line x1="39.60" y1="399.35" x2="42.60" y2="399.35" stroke="#222" stroke-width="0.9"/><text x="37.00" y="401.80" font-size="7.0" text-anchor="end" textLength="13.20" lengthAdjust="spacingAndGlyphs" >1000</text><line x1="39.60" y1="389.10" x2="42.60" y2="389.10" stroke="#222" stroke-width="0.9"/><text x="37.00" y="391.55" font-size="7.0" text-anchor="end" textLength="13.20" lengthAdjust="spacingAndGlyphs" >1200</text><line x1="42.60" y1="450.60" x2="42.60" y2="452.80" stroke="#222" stroke-width="0.9"/><text x="42.60" y="462.20" font-size="7.0" text-anchor="middle" textLength="3.30" lengthAdjust="spacingAndGlyphs" >0</text><line x1="58.06" y1="450.60" x2="58.06" y2="452.80" stroke="#222" stroke-width="0.9"/><text x="58.06" y="462.20" font-size="7.0" text-anchor="middle" textLength="6.60" lengthAdjust="spacingAndGlyphs" >30</text><line x1="73.53" y1="450.60" x2="73.53" y2="452.80" stroke="#222" stroke-width="0.9"/><text x="73.53" y="462.20" font-size="7.0" text-anchor="middle" textLength="6.60" lengthAdjust="spacingAndGlyphs" >60</text><line x1="89.00" y1="450.60" x2="89.00" y2="452.80" stroke="#222" stroke-width="0.9"/><text x="89.00" y="462.20" font-size="7.0" text-anchor="middle" textLength="6.60" lengthAdjust="spacingAndGlyphs" >90</text><line x1="104.46" y1="450.60" x2="104.46" y2="452.80" stroke="#222" stroke-width="0.9"/><text x="104.46" y="462.20" font-size="7.0" text-anchor="middle" textLength="9.90" lengthAdjust="spacingAndGlyphs" >120</text><line x1="119.92" y1="450.60" x2="119.92" y2="452.80" stroke="#222" stroke-width="0.9"/><text x="119.92" y="462.20" font-size="7.0" text-anchor="middle" textLength="9.90" lengthAdjust="spacingAndGlyphs" >150</text><line x1="135.39" y1="450.60" x2="135.39" y2="452.80" stroke="#222" stroke-width="0.9"/><text x="135.39" y="462.20" font-size="7.0" text-anchor="middle" textLength="9.90" lengthAdjust="spacingAndGlyphs" >180</text><text x="90.60" y="473.90" font-size="7.4" text-anchor="middle" textLength="30.20" lengthAdjust="spacingAndGlyphs" >Time (sec)</text><text x="18.00" y="419.00" font-size="7.2" text-anchor="middle" textLength="30.80" lengthAdjust="spacingAndGlyphs" transform="rotate(-90 18.00 419.00)" >[Ca]<tspan font-size="4.8" dy="-2.8">2+</tspan><tspan dy="2.8"> nM</tspan></text><polyline points="42.60,444.72 43.89,444.73 45.18,445.70 46.47,445.78 47.76,446.88 49.04,446.82 50.33,446.70 51.62,446.17 52.91,446.56 54.20,445.73 55.49,446.06 56.78,446.09 58.06,445.57 59.35,445.23 60.64,445.64 61.93,444.68 63.22,445.21 64.51,444.26 65.80,444.32 67.09,444.23 68.38,443.90 69.66,443.08 70.95,443.10 72.24,442.20 73.53,442.47 74.82,441.11 76.11,440.49 77.40,440.45 78.69,440.10 79.97,439.38 81.26,438.34 82.55,437.34 83.84,436.85 85.13,436.25 86.42,434.60 87.71,434.21 89.00,432.84 90.28,432.34 91.57,431.86 92.86,430.82 94.15,428.79 95.44,431.46 96.73,429.08 98.02,429.60 99.31,427.95 100.59,428.99 101.88,426.66 103.17,429.22 104.46,428.22 105.75,426.09 107.04,427.82 108.33,425.33 109.62,425.13 110.90,427.48 112.19,425.70 113.48,425.62 114.77,427.17 116.06,426.16 117.35,428.76 118.64,427.66 119.92,429.48 121.21,428.11 122.50,430.48 123.79,429.13 125.08,431.42 126.37,429.36 127.66,431.37 128.95,430.25 130.23,432.45 131.52,430.95 132.81,431.73 134.10,433.77 135.39,432.28" fill="none" stroke="#6ab347" stroke-width="1.0" stroke-linejoin="round"/><polyline points="42.60,444.62 43.89,445.24 45.18,445.50 46.47,444.95 47.76,445.53 49.04,445.07 50.33,445.52 51.62,444.67 52.91,444.69 54.20,445.07 55.49,444.60 56.78,444.81 58.06,444.03 59.35,444.57 60.64,443.95 61.93,444.05 63.22,443.24 64.51,443.69 65.80,443.71 67.09,442.40 68.38,441.94 69.66,442.29 70.95,441.51 72.24,441.21 73.53,440.05 74.82,440.08 76.11,438.55 77.40,438.67 78.69,437.82 79.97,436.41 81.26,436.43 82.55,434.64 83.84,433.76 85.13,432.51 86.42,431.24 87.71,430.10 89.00,428.17 90.28,427.52 91.57,425.76 92.86,428.10 94.15,422.34 95.44,420.07 96.73,421.00 98.02,422.95 99.31,419.76 100.59,424.61 101.88,419.02 103.17,419.74 104.46,424.53 105.75,418.40 107.04,423.07 108.33,418.46 109.62,424.60 110.90,418.40 112.19,422.97 113.48,422.84 114.77,418.89 116.06,422.78 117.35,423.20 118.64,420.42 119.92,425.48 121.21,421.12 122.50,425.37 123.79,426.50 125.08,426.88 126.37,427.00 127.66,422.96 128.95,426.47 130.23,422.87 131.52,424.12 132.81,427.70 134.10,424.84 135.39,424.92" fill="none" stroke="#2b4f92" stroke-width="1.0" stroke-linejoin="round"/><polyline points="42.60,443.20 43.89,442.80 45.18,442.04 46.47,442.79 47.76,441.98 49.04,441.66 50.33,441.73 51.62,442.25 52.91,441.04 54.20,441.34 55.49,441.78 56.78,441.58 58.06,440.77 59.35,441.06 60.64,440.10 61.93,440.43 63.22,439.49 64.51,439.70 65.80,439.63 67.09,438.40 68.38,437.51 69.66,437.79 70.95,436.42 72.24,435.97 73.53,435.27 74.82,435.31 76.11,434.57 77.40,432.24 78.69,431.22 79.97,429.59 81.26,427.13 82.55,426.17 83.84,423.52 85.13,422.46 86.42,419.26 87.71,417.41 89.00,414.37 90.28,412.34 91.57,412.20 92.86,405.39 94.15,400.98 95.44,399.76 96.73,407.45 98.02,394.01 99.31,403.24 100.59,399.68 101.88,403.95 103.17,403.24 104.46,401.70 105.75,392.15 107.04,403.21 108.33,393.37 109.62,401.33 110.90,392.87 112.19,402.48 113.48,392.57 114.77,400.55 116.06,392.52 117.35,391.80 118.64,392.21 119.92,406.13 121.21,397.59 122.50,402.64 123.79,404.63 125.08,396.39 126.37,404.88 127.66,398.23 128.95,407.33 130.23,399.93 131.52,409.38 132.81,400.84 134.10,408.25 135.39,398.39" fill="none" stroke="#c2123e" stroke-width="1.0" stroke-linejoin="round"/><line x1="45.00" y1="386.90" x2="52.20" y2="386.90" stroke="#c2123e" stroke-width="1.1"/><text x="54.80" y="389.00" font-size="7.0" textLength="30.20" lengthAdjust="spacingAndGlyphs" >Scrambled</text><line x1="45.00" y1="395.50" x2="52.20" y2="395.50" stroke="#2b4f92" stroke-width="1.1"/><text x="54.80" y="397.60" font-size="7.0" textLength="36.40" lengthAdjust="spacingAndGlyphs" ><tspan font-size="4.2" dy="-2.6">62</tspan><tspan dy="2.6">Gap27 (50)</tspan></text><line x1="45.00" y1="404.10" x2="52.20" y2="404.10" stroke="#6ab347" stroke-width="1.1"/><text x="54.80" y="406.20" font-size="7.0" textLength="39.80" lengthAdjust="spacingAndGlyphs" ><tspan font-size="4.2" dy="-2.6">62</tspan><tspan dy="2.6">Gap27 (100)</tspan></text><line x1="185.50" y1="384.00" x2="185.50" y2="451.30" stroke="#222" stroke-width="1.1"/><line x1="185.00" y1="450.80" x2="273.50" y2="450.80" stroke="#222" stroke-width="1.1"/><line x1="182.30" y1="450.80" x2="185.50" y2="450.80" stroke="#1a1a1a" stroke-width="1.0"/><text x="180.00" y="453.25" font-size="7.0" text-anchor="end" textLength="3.85" lengthAdjust="spacingAndGlyphs" >0</text><line x1="182.30" y1="440.05" x2="185.50" y2="440.05" stroke="#1a1a1a" stroke-width="1.0"/><text x="180.00" y="442.50" font-size="7.0" text-anchor="end" textLength="10.75" lengthAdjust="spacingAndGlyphs" >200</text><line x1="182.30" y1="429.30" x2="185.50" y2="429.30" stroke="#1a1a1a" stroke-width="1.0"/><text x="180.00" y="431.75" font-size="7.0" text-anchor="end" textLength="10.75" lengthAdjust="spacingAndGlyphs" >400</text><line x1="182.30" y1="418.55" x2="185.50" y2="418.55" stroke="#1a1a1a" stroke-width="1.0"/><text x="180.00" y="421.00" font-size="7.0" text-anchor="end" textLength="10.75" lengthAdjust="spacingAndGlyphs" >600</text><line x1="182.30" y1="407.80" x2="185.50" y2="407.80" stroke="#1a1a1a" stroke-width="1.0"/><text x="180.00" y="410.25" font-size="7.0" text-anchor="end" textLength="10.75" lengthAdjust="spacingAndGlyphs" >800</text><line x1="182.30" y1="397.05" x2="185.50" y2="397.05" stroke="#1a1a1a" stroke-width="1.0"/><text x="180.00" y="399.50" font-size="7.0" text-anchor="end" textLength="14.20" lengthAdjust="spacingAndGlyphs" >1000</text><line x1="182.30" y1="386.30" x2="185.50" y2="386.30" stroke="#1a1a1a" stroke-width="1.0"/><text x="180.00" y="388.75" font-size="7.0" text-anchor="end" textLength="14.20" lengthAdjust="spacingAndGlyphs" >1200</text><line x1="204.50" y1="450.80" x2="204.50" y2="453.40" stroke="#222" stroke-width="0.9"/><rect x="196.20" y="395.44" width="16.60" height="55.36" fill="#a2002b" /><line x1="204.50" y1="395.44" x2="204.50" y2="390.50" stroke="#1a1a1a" stroke-width="1.0"/><line x1="202.30" y1="390.50" x2="206.70" y2="390.50" stroke="#1a1a1a" stroke-width="1.2"/><text x="204.50" y="462.40" font-size="6.6" text-anchor="middle" >S</text><line x1="233.55" y1="450.80" x2="233.55" y2="453.40" stroke="#222" stroke-width="0.9"/><rect x="225.50" y="415.86" width="16.10" height="34.94" fill="#a2002b" /><line x1="233.50" y1="415.86" x2="233.50" y2="413.50" stroke="#1a1a1a" stroke-width="1.0"/><line x1="231.30" y1="413.50" x2="235.70" y2="413.50" stroke="#1a1a1a" stroke-width="1.2"/><text x="233.55" y="414.07" font-size="6.6" text-anchor="middle" >*</text><text x="233.55" y="462.40" font-size="6.6" text-anchor="middle" >50</text><line x1="262.60" y1="450.80" x2="262.60" y2="453.40" stroke="#222" stroke-width="0.9"/><rect x="254.50" y="425.54" width="16.20" height="25.26" fill="#a2002b" /><line x1="262.50" y1="425.54" x2="262.50" y2="420.50" stroke="#1a1a1a" stroke-width="1.0"/><line x1="260.30" y1="420.50" x2="264.70" y2="420.50" stroke="#1a1a1a" stroke-width="1.2"/><text x="262.60" y="421.60" font-size="6.6" text-anchor="middle" letter-spacing="0.5">**</text><text x="262.60" y="462.40" font-size="6.6" text-anchor="middle" >100</text><line x1="225.50" y1="466.50" x2="270.50" y2="466.50" stroke="#222" stroke-width="1.0"/><text x="248.30" y="475.20" font-size="6.9" text-anchor="middle" textLength="45.50" lengthAdjust="spacingAndGlyphs" ><tspan font-size="4.4" dy="-2.7">62</tspan><tspan dy="2.7">Gap27 (&#956;g/ml)</tspan></text><text x="159.80" y="415.00" font-size="7.9" text-anchor="middle" textLength="44.40" lengthAdjust="spacingAndGlyphs" transform="rotate(-90 159.80 415.00)" >Peak [Ca]<tspan font-size="5.0" dy="-3.0">2+</tspan><tspan dy="3.0"> nM</tspan></text><text x="283.40" y="334.00" font-size="11.8" font-weight="bold" fill="#000" >F</text><text x="302.10" y="333.30" font-size="8.8" textLength="64.60" lengthAdjust="spacingAndGlyphs" >IB: PKC substrate</text><text x="333.60" y="346.80" font-size="7.7" textLength="22.60" lengthAdjust="spacingAndGlyphs" ><tspan font-size="4.6" dy="-3.2">62</tspan><tspan dy="3.2">Gap27</tspan></text><text x="335.00" y="353.80" font-size="7.3" textLength="20.30" lengthAdjust="spacingAndGlyphs" >(&#956;g/ml)</text><text x="283.00" y="365.30" font-size="6.6" textLength="22.00" lengthAdjust="spacingAndGlyphs" >CRP-XL</text><text x="313.80" y="365.30" font-size="6.6" text-anchor="middle" >-</text><text x="325.50" y="365.30" font-size="6.6" text-anchor="middle" >+</text><text x="337.50" y="365.30" font-size="6.6" text-anchor="middle" >+</text><text x="351.80" y="365.30" font-size="6.6" text-anchor="middle" >+</text><line x1="334.50" y1="368.00" x2="356.30" y2="368.00" stroke="#222" stroke-width="1"/><text x="288.00" y="377.40" font-size="6.6" textLength="11.50" lengthAdjust="spacingAndGlyphs" >kDa</text><text x="314.00" y="377.40" font-size="6.6" text-anchor="middle" >Rest</text><text x="325.50" y="377.40" font-size="6.6" text-anchor="middle" >S</text><text x="337.50" y="377.40" font-size="6.6" text-anchor="middle" >50</text><text x="351.80" y="377.40" font-size="6.6" text-anchor="middle" >100</text><line x1="302.50" y1="386.30" x2="308.50" y2="386.30" stroke="#222" stroke-width="0.9"/><text x="300.50" y="388.60" font-size="6.4" text-anchor="end" >200</text><line x1="302.50" y1="392.50" x2="308.50" y2="392.50" stroke="#222" stroke-width="0.9"/><text x="300.50" y="394.80" font-size="6.4" text-anchor="end" >150</text><line x1="302.50" y1="402.00" x2="308.50" y2="402.00" stroke="#222" stroke-width="0.9"/><text x="300.50" y="404.30" font-size="6.4" text-anchor="end" >100</text><line x1="302.50" y1="412.00" x2="308.50" y2="412.00" stroke="#222" stroke-width="0.9"/><text x="300.50" y="414.30" font-size="6.4" text-anchor="end" >75</text><line x1="302.50" y1="433.00" x2="308.50" y2="433.00" stroke="#222" stroke-width="0.9"/><text x="300.50" y="435.30" font-size="6.4" text-anchor="end" >50</text><line x1="302.50" y1="453.80" x2="308.50" y2="453.80" stroke="#222" stroke-width="0.9"/><text x="300.50" y="456.10" font-size="6.4" text-anchor="end" >37</text><line x1="302.50" y1="478.80" x2="308.50" y2="478.80" stroke="#222" stroke-width="0.9"/><text x="300.50" y="481.10" font-size="6.4" text-anchor="end" >25</text><clipPath id="c485"><rect x="308.60" y="381.90" width="53.60" height="101.80"/></clipPath><g clip-path="url(#c485)"><rect x="308.60" y="381.90" width="53.60" height="101.80" fill="#f7f7f7" /><rect x="309.30" y="381.90" width="10.90" height="101.80" fill="#ececec" filter="url(#f6)"/><rect x="320.80" y="381.90" width="11.60" height="101.80" fill="#ececec" filter="url(#f6)"/><rect x="333.20" y="381.90" width="11.40" height="101.80" fill="#ececec" filter="url(#f6)"/><rect x="346.00" y="381.90" width="12.80" height="101.80" fill="#ececec" filter="url(#f6)"/><rect x="309.30" y="384.00" width="10.90" height="2.00" rx="1.00" fill="rgba(0,0,0,0.05)" filter="url(#f9)"/><rect x="309.30" y="388.20" width="10.90" height="2.00" rx="1.00" fill="rgba(0,0,0,0.08)" filter="url(#f9)"/><rect x="309.30" y="391.40" width="10.90" height="2.60" rx="1.30" fill="rgba(0,0,0,0.20)" filter="url(#f9)"/><rect x="309.30" y="395.80" width="10.90" height="2.00" rx="1.00" fill="rgba(0,0,0,0.06)" filter="url(#f9)"/><rect x="309.30" y="400.70" width="10.90" height="1.80" rx="0.90" fill="rgba(0,0,0,0.22)" filter="url(#f7)"/><rect x="309.30" y="404.90" width="10.90" height="2.60" rx="1.30" fill="rgba(0,0,0,0.22)" filter="url(#f8)"/><rect x="309.30" y="409.70" width="10.90" height="2.40" rx="1.20" fill="rgba(0,0,0,0.35)" filter="url(#f7)"/><rect x="309.30" y="413.80" width="10.90" height="2.40" rx="1.20" fill="rgba(0,0,0,0.80)" filter="url(#f7)"/><rect x="309.30" y="416.40" width="10.90" height="1.60" rx="0.80" fill="rgba(0,0,0,0.50)" filter="url(#f8)"/><rect x="309.30" y="419.80" width="10.90" height="2.00" rx="1.00" fill="rgba(0,0,0,0.15)" filter="url(#f8)"/><rect x="309.30" y="424.60" width="10.90" height="1.80" rx="0.90" fill="rgba(0,0,0,0.40)" filter="url(#f7)"/><rect x="309.30" y="429.80" width="10.90" height="1.60" rx="0.80" fill="rgba(0,0,0,0.08)" filter="url(#f8)"/><rect x="309.30" y="434.30" width="10.90" height="1.60" rx="0.80" fill="rgba(0,0,0,0.06)" filter="url(#f8)"/><rect x="309.30" y="438.30" width="10.90" height="1.60" rx="0.80" fill="rgba(0,0,0,0.06)" filter="url(#f8)"/><rect x="309.30" y="448.30" width="10.90" height="3.20" rx="1.50" fill="rgba(0,0,0,0.42)" filter="url(#f6)"/><rect x="309.30" y="461.30" width="10.90" height="2.00" rx="1.00" fill="rgba(0,0,0,0.06)" filter="url(#f9)"/><rect x="309.30" y="469.90" width="10.90" height="2.00" rx="1.00" fill="rgba(0,0,0,0.06)" filter="url(#f9)"/><rect x="309.30" y="475.90" width="10.90" height="2.00" rx="1.00" fill="rgba(0,0,0,0.20)" filter="url(#f8)"/><rect x="320.80" y="384.00" width="11.60" height="2.00" rx="1.00" fill="rgba(0,0,0,0.12)" filter="url(#f9)"/><rect x="320.80" y="388.20" width="11.60" height="2.00" rx="1.00" fill="rgba(0,0,0,0.10)" filter="url(#f9)"/><rect x="320.80" y="391.40" width="11.60" height="2.60" rx="1.30" fill="rgba(0,0,0,0.25)" filter="url(#f9)"/><rect x="320.80" y="395.80" width="11.60" height="2.00" rx="1.00" fill="rgba(0,0,0,0.08)" filter="url(#f9)"/><rect x="320.80" y="400.70" width="11.60" height="1.80" rx="0.90" fill="rgba(0,0,0,0.60)" filter="url(#f7)"/><rect x="320.80" y="404.90" width="11.60" height="2.60" rx="1.30" fill="rgba(0,0,0,0.50)" filter="url(#f8)"/><rect x="320.80" y="409.70" width="11.60" height="2.40" rx="1.20" fill="rgba(0,0,0,0.95)" filter="url(#f7)"/><rect x="320.80" y="413.80" width="11.60" height="2.40" rx="1.20" fill="rgba(0,0,0,0.55)" filter="url(#f7)"/><rect x="320.80" y="416.40" width="11.60" height="1.60" rx="0.80" fill="rgba(0,0,0,0.30)" filter="url(#f8)"/><rect x="320.80" y="419.80" width="11.60" height="2.00" rx="1.00" fill="rgba(0,0,0,0.38)" filter="url(#f8)"/><rect x="320.80" y="424.60" width="11.60" height="1.80" rx="0.90" fill="rgba(0,0,0,0.90)" filter="url(#f7)"/><rect x="320.80" y="429.80" width="11.60" height="1.60" rx="0.80" fill="rgba(0,0,0,0.16)" filter="url(#f8)"/><rect x="320.80" y="434.30" width="11.60" height="1.60" rx="0.80" fill="rgba(0,0,0,0.10)" filter="url(#f8)"/><rect x="320.80" y="438.30" width="11.60" height="1.60" rx="0.80" fill="rgba(0,0,0,0.10)" filter="url(#f8)"/><rect x="320.80" y="448.30" width="11.60" height="3.20" rx="1.50" fill="rgba(0,0,0,1.00)" filter="url(#f6)"/><rect x="320.80" y="461.30" width="11.60" height="2.00" rx="1.00" fill="rgba(0,0,0,0.06)" filter="url(#f9)"/><rect x="320.80" y="469.90" width="11.60" height="2.00" rx="1.00" fill="rgba(0,0,0,0.06)" filter="url(#f9)"/><rect x="320.80" y="475.90" width="11.60" height="2.00" rx="1.00" fill="rgba(0,0,0,0.30)" filter="url(#f8)"/><rect x="333.20" y="384.00" width="11.40" height="2.00" rx="1.00" fill="rgba(0,0,0,0.05)" filter="url(#f9)"/><rect x="333.20" y="388.20" width="11.40" height="2.00" rx="1.00" fill="rgba(0,0,0,0.08)" filter="url(#f9)"/><rect x="333.20" y="391.40" width="11.40" height="2.60" rx="1.30" fill="rgba(0,0,0,0.18)" filter="url(#f9)"/><rect x="333.20" y="395.80" width="11.40" height="2.00" rx="1.00" fill="rgba(0,0,0,0.06)" filter="url(#f9)"/><rect x="333.20" y="400.70" width="11.40" height="1.80" rx="0.90" fill="rgba(0,0,0,0.35)" filter="url(#f7)"/><rect x="333.20" y="404.90" width="11.40" height="2.60" rx="1.30" fill="rgba(0,0,0,0.30)" filter="url(#f8)"/><rect x="333.20" y="409.70" width="11.40" height="2.40" rx="1.20" fill="rgba(0,0,0,0.62)" filter="url(#f7)"/><rect x="333.20" y="413.80" width="11.40" height="2.40" rx="1.20" fill="rgba(0,0,0,0.62)" filter="url(#f7)"/><rect x="333.20" y="416.40" width="11.40" height="1.60" rx="0.80" fill="rgba(0,0,0,0.35)" filter="url(#f8)"/><rect x="333.20" y="419.80" width="11.40" height="2.00" rx="1.00" fill="rgba(0,0,0,0.22)" filter="url(#f8)"/><rect x="333.20" y="424.60" width="11.40" height="1.80" rx="0.90" fill="rgba(0,0,0,0.60)" filter="url(#f7)"/><rect x="333.20" y="429.80" width="11.40" height="1.60" rx="0.80" fill="rgba(0,0,0,0.12)" filter="url(#f8)"/><rect x="333.20" y="434.30" width="11.40" height="1.60" rx="0.80" fill="rgba(0,0,0,0.08)" filter="url(#f8)"/><rect x="333.20" y="438.30" width="11.40" height="1.60" rx="0.80" fill="rgba(0,0,0,0.08)" filter="url(#f8)"/><rect x="333.20" y="448.30" width="11.40" height="3.20" rx="1.50" fill="rgba(0,0,0,1.00)" filter="url(#f6)"/><rect x="333.20" y="461.30" width="11.40" height="2.00" rx="1.00" fill="rgba(0,0,0,0.06)" filter="url(#f9)"/><rect x="333.20" y="469.90" width="11.40" height="2.00" rx="1.00" fill="rgba(0,0,0,0.06)" filter="url(#f9)"/><rect x="333.20" y="475.90" width="11.40" height="2.00" rx="1.00" fill="rgba(0,0,0,0.25)" filter="url(#f8)"/><rect x="346.00" y="384.00" width="12.80" height="2.00" rx="1.00" fill="rgba(0,0,0,0.05)" filter="url(#f9)"/><rect x="346.00" y="388.20" width="12.80" height="2.00" rx="1.00" fill="rgba(0,0,0,0.08)" filter="url(#f9)"/><rect x="346.00" y="391.40" width="12.80" height="2.60" rx="1.30" fill="rgba(0,0,0,0.18)" filter="url(#f9)"/><rect x="346.00" y="395.80" width="12.80" height="2.00" rx="1.00" fill="rgba(0,0,0,0.06)" filter="url(#f9)"/><rect x="346.00" y="400.70" width="12.80" height="1.80" rx="0.90" fill="rgba(0,0,0,0.35)" filter="url(#f7)"/><rect x="346.00" y="404.90" width="12.80" height="2.60" rx="1.30" fill="rgba(0,0,0,0.28)" filter="url(#f8)"/><rect x="346.00" y="409.70" width="12.80" height="2.40" rx="1.20" fill="rgba(0,0,0,0.58)" filter="url(#f7)"/><rect x="346.00" y="413.80" width="12.80" height="2.40" rx="1.20" fill="rgba(0,0,0,0.62)" filter="url(#f7)"/><rect x="346.00" y="416.40" width="12.80" height="1.60" rx="0.80" fill="rgba(0,0,0,0.35)" filter="url(#f8)"/><rect x="346.00" y="419.80" width="12.80" height="2.00" rx="1.00" fill="rgba(0,0,0,0.20)" filter="url(#f8)"/><rect x="346.00" y="424.60" width="12.80" height="1.80" rx="0.90" fill="rgba(0,0,0,0.55)" filter="url(#f7)"/><rect x="346.00" y="429.80" width="12.80" height="1.60" rx="0.80" fill="rgba(0,0,0,0.12)" filter="url(#f8)"/><rect x="346.00" y="434.30" width="12.80" height="1.60" rx="0.80" fill="rgba(0,0,0,0.08)" filter="url(#f8)"/><rect x="346.00" y="438.30" width="12.80" height="1.60" rx="0.80" fill="rgba(0,0,0,0.08)" filter="url(#f8)"/><rect x="346.00" y="448.30" width="12.80" height="3.20" rx="1.50" fill="rgba(0,0,0,1.00)" filter="url(#f6)"/><rect x="346.00" y="461.30" width="12.80" height="2.00" rx="1.00" fill="rgba(0,0,0,0.06)" filter="url(#f9)"/><rect x="346.00" y="469.90" width="12.80" height="2.00" rx="1.00" fill="rgba(0,0,0,0.06)" filter="url(#f9)"/><rect x="346.00" y="475.90" width="12.80" height="2.00" rx="1.00" fill="rgba(0,0,0,0.20)" filter="url(#f8)"/></g><rect x="308.60" y="381.90" width="53.60" height="101.80" fill="none" stroke="#2a2a2a" stroke-width="1.0"/><line x1="308.10" y1="483.70" x2="362.70" y2="483.70" stroke="#2a2a2a" stroke-width="1.6"/><line x1="362.20" y1="381.90" x2="362.20" y2="483.70" stroke="#2a2a2a" stroke-width="1.6"/><text x="283.60" y="494.00" font-size="6.6" textLength="22.80" lengthAdjust="spacingAndGlyphs" >14-3-3-&#950;</text><clipPath id="c569"><rect x="308.40" y="487.00" width="53.80" height="9.30"/></clipPath><g clip-path="url(#c569)"><rect x="308.40" y="487.00" width="53.80" height="9.30" fill="#dadada" /><rect x="309.60" y="489.70" width="10.40" height="3.00" rx="1.50" fill="#0a0a0a" filter="url(#f6)"/><rect x="322.00" y="489.70" width="10.00" height="3.00" rx="1.50" fill="#0a0a0a" filter="url(#f6)"/><rect x="334.30" y="489.70" width="10.70" height="3.00" rx="1.50" fill="#0a0a0a" filter="url(#f6)"/><rect x="347.90" y="489.70" width="12.10" height="3.00" rx="1.50" fill="#0a0a0a" filter="url(#f6)"/></g><rect x="308.40" y="487.00" width="53.80" height="9.30" fill="none" stroke="#2a2a2a" stroke-width="1.0"/><line x1="307.90" y1="496.30" x2="362.70" y2="496.30" stroke="#2a2a2a" stroke-width="1.3"/><line x1="362.20" y1="487.00" x2="362.20" y2="496.30" stroke="#2a2a2a" stroke-width="1.3"/><line x1="413.40" y1="381.00" x2="413.40" y2="453.90" stroke="#222" stroke-width="1.1"/><line x1="412.90" y1="453.40" x2="513.00" y2="453.40" stroke="#222" stroke-width="1.1"/><line x1="410.20" y1="453.40" x2="413.40" y2="453.40" stroke="#1a1a1a" stroke-width="1.0"/><text x="407.90" y="455.85" font-size="7.0" text-anchor="end" textLength="3.85" lengthAdjust="spacingAndGlyphs" >0</text><line x1="410.20" y1="436.00" x2="413.40" y2="436.00" stroke="#1a1a1a" stroke-width="1.0"/><text x="407.90" y="438.45" font-size="7.0" text-anchor="end" textLength="7.30" lengthAdjust="spacingAndGlyphs" >10</text><line x1="410.20" y1="418.60" x2="413.40" y2="418.60" stroke="#1a1a1a" stroke-width="1.0"/><text x="407.90" y="421.05" font-size="7.0" text-anchor="end" textLength="7.30" lengthAdjust="spacingAndGlyphs" >20</text><line x1="410.20" y1="401.20" x2="413.40" y2="401.20" stroke="#1a1a1a" stroke-width="1.0"/><text x="407.90" y="403.65" font-size="7.0" text-anchor="end" textLength="7.30" lengthAdjust="spacingAndGlyphs" >30</text><line x1="410.20" y1="383.80" x2="413.40" y2="383.80" stroke="#1a1a1a" stroke-width="1.0"/><text x="407.90" y="386.25" font-size="7.0" text-anchor="end" textLength="7.30" lengthAdjust="spacingAndGlyphs" >40</text><line x1="429.25" y1="453.40" x2="429.25" y2="456.00" stroke="#222" stroke-width="0.9"/><rect x="421.40" y="441.22" width="15.70" height="12.18" fill="#a2002b" /><line x1="429.50" y1="441.22" x2="429.50" y2="438.50" stroke="#1a1a1a" stroke-width="1.0"/><line x1="427.30" y1="438.50" x2="431.70" y2="438.50" stroke="#1a1a1a" stroke-width="1.2"/><text x="429.25" y="465.20" font-size="6.6" text-anchor="middle" >Resting</text><line x1="453.70" y1="453.40" x2="453.70" y2="456.00" stroke="#222" stroke-width="0.9"/><rect x="445.70" y="395.98" width="16.00" height="57.42" fill="#a2002b" /><line x1="453.50" y1="395.98" x2="453.50" y2="389.50" stroke="#1a1a1a" stroke-width="1.0"/><line x1="451.30" y1="389.50" x2="455.70" y2="389.50" stroke="#1a1a1a" stroke-width="1.2"/><text x="453.70" y="465.20" font-size="6.6" text-anchor="middle" >S</text><line x1="477.85" y1="453.40" x2="477.85" y2="456.00" stroke="#222" stroke-width="0.9"/><rect x="470.00" y="413.38" width="15.70" height="40.02" fill="#a2002b" /><line x1="477.50" y1="413.38" x2="477.50" y2="407.50" stroke="#1a1a1a" stroke-width="1.0"/><line x1="475.30" y1="407.50" x2="479.70" y2="407.50" stroke="#1a1a1a" stroke-width="1.2"/><text x="477.85" y="465.20" font-size="6.6" text-anchor="middle" >50</text><line x1="502.00" y1="453.40" x2="502.00" y2="456.00" stroke="#222" stroke-width="0.9"/><rect x="494.00" y="422.08" width="16.00" height="31.32" fill="#a2002b" /><line x1="502.50" y1="422.08" x2="502.50" y2="418.50" stroke="#1a1a1a" stroke-width="1.0"/><line x1="500.30" y1="418.50" x2="504.70" y2="418.50" stroke="#1a1a1a" stroke-width="1.2"/><text x="502.00" y="419.15" font-size="6.6" text-anchor="middle" >*</text><text x="502.00" y="465.20" font-size="6.6" text-anchor="middle" >100</text><line x1="470.00" y1="469.10" x2="510.00" y2="469.10" stroke="#222" stroke-width="1.0"/><text x="490.30" y="478.50" font-size="6.9" text-anchor="middle" textLength="45.50" lengthAdjust="spacingAndGlyphs" ><tspan font-size="4.4" dy="-2.7">62</tspan><tspan dy="2.7">Gap27 (&#956;g/ml)</tspan></text><text x="385.10" y="417.20" font-size="7.9" text-anchor="middle" textLength="48.80" lengthAdjust="spacingAndGlyphs" transform="rotate(-90 385.10 417.20)" >Normalized PKC</text><text x="393.70" y="417.20" font-size="7.9" text-anchor="middle" textLength="44.60" lengthAdjust="spacingAndGlyphs" transform="rotate(-90 393.70 417.20)" >p-Ser substrate</text>
<rect x="1" y="1" width="518" height="502" fill="none" stroke="#e2e2e2" stroke-width="1"/><rect x="1.5" y="1.5" width="517" height="501" fill="none" stroke="none"/><rect x="518" y="1" width="1" height="502" fill="#cfcfcf"/><rect x="1" y="502" width="518" height="1" fill="#cfcfcf"/><rect x="0.5" y="0.5" width="519" height="503" fill="none" stroke="#000" stroke-width="1"/>
</svg>
</body></html>
